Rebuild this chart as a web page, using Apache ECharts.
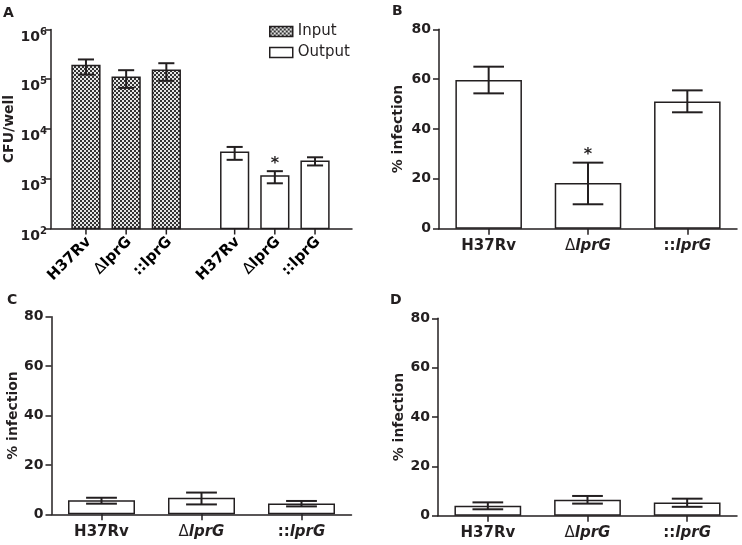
<!DOCTYPE html>
<html>
<head>
<meta charset="utf-8">
<script src="https://cdn.jsdelivr.net/npm/echarts@6/dist/echarts.min.js"></script>
<style>
    html, body { margin: 0; padding: 0; background: #fff; }
    #main { width: 742px; height: 545px; }
</style>
</head>
<body>
<div id="main"></div>
<script>
    // strains, shared by every panel
    const strains = ['H37Rv', 'ΔlprG', '::lprG'];

    // A: CFU/well, log scale
    const inputMean = [1.9e5, 1.1e5, 1.52e5];
    const inputLow = [1.24e5, 6.7e4, 9.3e4];
    const inputHigh = [2.5e5, 1.52e5, 2.1e5];
    const outputMean = [3.4e3, 1.14e3, 2.25e3];
    const outputLow = [2.4e3, 8.1e2, 1.85e3];
    const outputHigh = [4.36e3, 1.42e3, 2.7e3];
    const outputStar = [false, true, false];

    // B, C, D: % infection
    const meanB = [59.7, 18.3, 51.0];
    const lowB = [54.3, 9.8, 46.7];
    const highB = [65.0, 26.5, 55.5];
    const starB = [false, true, false];

    const meanC = [5.7, 6.7, 4.4];
    const lowC = [4.3, 4.0, 3.2];
    const highC = [6.7, 8.8, 5.4];

    const meanD = [4.05, 6.5, 5.4];
    const lowD = [2.6, 4.9, 3.6];
    const highD = [5.4, 8.0, 6.9];

    const ink = '#231f20';
    const font = 'DejaVu Sans';

    function checker() {
        const c = document.createElement('canvas');
        c.width = 4; c.height = 4;
        const g = c.getContext('2d');
        g.fillStyle = '#e6e6e6'; g.fillRect(0, 0, 4, 4);
        g.fillStyle = '#333333'; g.fillRect(0, 0, 2, 2); g.fillRect(2, 2, 2, 2);
        return c;
    }
    const hatch = { image: checker(), repeat: 'repeat' };

    const rich = {
        b: { fontFamily: font, fontWeight: 'bold', fontSize: 15, color: ink },
        i: { fontFamily: font, fontWeight: 'bold', fontStyle: 'italic', fontSize: 15, color: ink },
        d: { fontFamily: font, fontSize: 15, color: ink }
    };
    function richName(s, italic) {
        const k = italic ? 'i' : 'b';
        if (s.startsWith('Δ')) return '{d|Δ}{' + k + '|' + s.slice(1) + '}';
        if (s.startsWith('::')) return '{b|::}{' + k + '|' + s.slice(2) + '}';
        return '{b|' + s + '}';
    }

    // panel A: input group then output group with a gap
    function posA(i, group) { return i + group * 3.7; }

    function renderA(fill, stars) {
        return function (params, api) {
            const i = params.dataIndex;
            const x = api.value(0);
            const base = api.coord([x, 100]);
            const top = api.coord([x, api.value(1)]);
            const lo = api.coord([x, api.value(2)]);
            const hi = api.coord([x, api.value(3)]);
            const w = api.size([0.69, 0])[0];
            const cap = w * 0.29;
            const cx = base[0];
            const kids = [
                { type: 'rect', shape: { x: cx - w / 2, y: top[1], width: w, height: base[1] - top[1] },
                  style: { fill: fill, stroke: ink, lineWidth: 1.5 } },
                { type: 'line', shape: { x1: cx, y1: hi[1], x2: cx, y2: lo[1] }, style: { stroke: ink, lineWidth: 2 } },
                { type: 'line', shape: { x1: cx - cap, y1: hi[1], x2: cx + cap, y2: hi[1] }, style: { stroke: ink, lineWidth: 2 } },
                { type: 'line', shape: { x1: cx - cap, y1: lo[1], x2: cx + cap, y2: lo[1] }, style: { stroke: ink, lineWidth: 2 } },
                { type: 'line', shape: { x1: cx, y1: base[1], x2: cx, y2: base[1] + 6 }, style: { stroke: ink, lineWidth: 1.5 } },
                { type: 'text', x: cx + 3, y: base[1] + 11, rotation: Math.PI / 4,
                  style: { text: richName(strains[i], false), rich: rich, align: 'right', verticalAlign: 'middle' } }
            ];
            if (stars && stars[i]) {
                kids.push({ type: 'text', x: cx, y: hi[1] - 7,
                    style: { text: '*', fontFamily: font, fontWeight: 'bold', fontSize: 16, fill: ink, align: 'center', verticalAlign: 'middle' } });
            }
            return { type: 'group', children: kids };
        };
    }

    function renderErr(stars) {
        return function (params, api) {
            const i = params.dataIndex;
            const c = api.value(0);
            const lo = api.coord([c, api.value(1)]);
            const hi = api.coord([c, api.value(2)]);
            const half = api.size([1, 0])[0] * 0.67 * 0.23;
            const cx = lo[0];
            const st = { stroke: ink, lineWidth: 2 };
            const kids = [
                { type: 'line', shape: { x1: cx, y1: hi[1], x2: cx, y2: lo[1] }, style: st },
                { type: 'line', shape: { x1: cx - half, y1: hi[1], x2: cx + half, y2: hi[1] }, style: st },
                { type: 'line', shape: { x1: cx - half, y1: lo[1], x2: cx + half, y2: lo[1] }, style: st }
            ];
            if (stars && stars[i]) {
                kids.push({ type: 'text', x: cx, y: hi[1] - 8,
                    style: { text: '*', fontFamily: font, fontWeight: 'bold', fontSize: 16, fill: ink, align: 'center', verticalAlign: 'middle' } });
            }
            return { type: 'group', children: kids };
        };
    }

    const grids = [
        { left: 51, top: 29.5, width: 301, height: 199 },
        { left: 439, top: 29.3, width: 298, height: 199.4 },
        { left: 51.5, top: 316.7, width: 300, height: 197.6 },
        { left: 438, top: 318.3, width: 299, height: 197.4 }
    ];

    const axisLine = { show: true, onZero: false, lineStyle: { color: ink, width: 1.5 } };
    const axisTick = { show: true, length: 6, lineStyle: { color: ink, width: 1.5 } };
    const nameStyle = { fontFamily: font, fontWeight: 'bold', fontSize: 14, color: ink };

    function catAxis(g) {
        return {
            gridIndex: g, type: 'category', data: strains,
            axisLine: axisLine, axisTick: Object.assign({ alignWithLabel: true }, axisTick),
            axisLabel: { margin: 10, formatter: v => richName(v, true), rich: rich }
        };
    }
    function pctAxis(g, gap) {
        return {
            gridIndex: g, type: 'value', min: 0, max: 80, interval: 20,
            axisLine: axisLine, axisTick: axisTick, splitLine: { show: false },
            axisLabel: { margin: 8, fontFamily: font, fontWeight: 'bold', fontSize: 14, color: ink },
            name: '% infection', nameLocation: 'middle', nameGap: gap, nameTextStyle: nameStyle
        };
    }
    function barSeries(g, data) {
        return {
            type: 'bar', xAxisIndex: g, yAxisIndex: g, data: data, barWidth: '67%',
            itemStyle: { color: '#fff', borderColor: ink, borderWidth: 1.5 }, silent: true
        };
    }
    function errSeries(g, low, high, stars) {
        return {
            type: 'custom', xAxisIndex: g, yAxisIndex: g, z: 5,
            data: low.map((v, i) => [i, v, high[i]]),
            encode: { x: 0, y: [1, 2] },
            renderItem: renderErr(stars)
        };
    }

    const option = {
        animation: false,
        backgroundColor: '#fff',
        title: [
            { text: 'A', left: 3, top: 6 },
            { text: 'B', left: 392, top: 4 },
            { text: 'C', left: 7, top: 293 },
            { text: 'D', left: 390, top: 293 }
        ].map(t => Object.assign(t, { padding: 0, textStyle: { fontFamily: font, fontWeight: 'bold', fontSize: 14, color: ink } })),
        legend: {
            orient: 'vertical', left: 269, top: 24, padding: 0, itemWidth: 23, itemHeight: 10, itemGap: 6,
            textStyle: { fontFamily: font, fontSize: 15, color: ink },
            data: [
                { name: 'Input', icon: 'rect', itemStyle: { color: hatch, borderColor: ink, borderWidth: 1.5 } },
                { name: 'Output', icon: 'rect', itemStyle: { color: '#fff', borderColor: ink, borderWidth: 1.5 } }
            ]
        },
        grid: grids,
        xAxis: [
            {
                gridIndex: 0, type: 'value', min: -0.87, max: 6.62,
                axisLine: axisLine, axisTick: { show: false }, axisLabel: { show: false }, splitLine: { show: false }
            },
            catAxis(1), catAxis(2), catAxis(3)
        ],
        yAxis: [
            {
                gridIndex: 0, type: 'log', logBase: 10, min: 100, max: 1e6,
                axisLine: axisLine, axisTick: axisTick, splitLine: { show: false }, minorTick: { show: false },
                axisLabel: {
                    margin: 4, padding: [11, 0, 0, 0],
                    formatter: v => '{n|10}{s|' + Math.round(Math.log10(v)) + '}',
                    rich: {
                        n: { fontFamily: font, fontWeight: 'bold', fontSize: 14, lineHeight: 16, color: ink, padding: [4, 0, 0, 0] },
                        s: { fontFamily: font, fontWeight: 'bold', fontSize: 10, lineHeight: 12, color: ink, verticalAlign: 'top' }
                    }
                },
                name: 'CFU/well', nameLocation: 'middle', nameGap: 34, nameTextStyle: nameStyle
            },
            pctAxis(1, 34), pctAxis(2, 30), pctAxis(3, 32)
        ],
        series: [
            {
                name: 'Input', type: 'custom', xAxisIndex: 0, yAxisIndex: 0,
                itemStyle: { color: hatch, borderColor: ink },
                data: inputMean.map((v, i) => [posA(i, 0), v, inputLow[i], inputHigh[i]]),
                encode: { x: 0, y: 1 },
                renderItem: renderA(hatch, null)
            },
            {
                name: 'Output', type: 'custom', xAxisIndex: 0, yAxisIndex: 0,
                itemStyle: { color: '#fff', borderColor: ink },
                data: outputMean.map((v, i) => [posA(i, 1), v, outputLow[i], outputHigh[i]]),
                encode: { x: 0, y: 1 },
                renderItem: renderA('#fff', outputStar)
            },
            barSeries(1, meanB), errSeries(1, lowB, highB, starB),
            barSeries(2, meanC), errSeries(2, lowC, highC, null),
            barSeries(3, meanD), errSeries(3, lowD, highD, null)
        ]
    };

    const chart = echarts.init(document.getElementById('main'));
    chart.setOption(option);
</script>
</body>
</html>
